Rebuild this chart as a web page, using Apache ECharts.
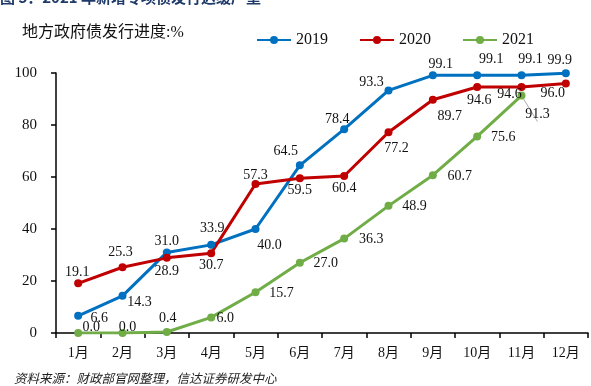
<!DOCTYPE html>
<html><head><meta charset="utf-8">
<script src="https://cdn.jsdelivr.net/npm/echarts@6/dist/echarts.min.js"></script>
<style>html,body{margin:0;padding:0;background:#fff}#c{width:591px;height:386px}</style>
</head><body><div id="c"></div>
<script>
const months = ['1月','2月','3月','4月','5月','6月','7月','8月','9月','10月','11月','12月'];
const seriesNames = ['2019','2020','2021'];
const s2019 = [6.6, 14.3, 31.0, 33.9, 40.0, 64.5, 78.4, 93.3, 99.1, 99.1, 99.1, 99.9];
const s2020 = [19.1, 25.3, 28.9, 30.7, 57.3, 59.5, 60.4, 77.2, 89.7, 94.6, 94.6, 96.0];
const s2021 = [0.0, 0.0, 0.4, 6.0, 15.7, 27.0, 36.3, 48.9, 60.7, 75.6, 91.3];
const yMin = 0, yMax = 100, yStep = 20;

// label placement (offsets from point, px)
const off2019 = [[21,2],[17,7],[0,-11],[1,-17],[14,16],[-14,-14],[-7,-10],[-17,-8],[8,-11],[14,-16],[9,-16],[-6,-13]];
const off2020 = [[-1,-11],[-2,-15],[0,13],[0,12],[0,-9],[0,12],[0,12],[8,16],[17,17],[2,13],[-12,7],[-13,10]];
const off2021 = [[13,-6],[5,-6],[1,-14],[14,1],[26,1],[26,1],[27,1],[26,0],[27,1],[26,1],[16,19]];

const colors = ['#0070C0','#C00000','#70AD47'];
const serif = '"Times New Roman","Liberation Serif","Noto Sans CJK SC",serif';

function mk(vals, offs, name, color){
  return {
    name: name, type: 'line', data: vals.map((v,i)=>({value:v, label:{offset:offs[i]}})),
    symbol: 'circle', symbolSize: 8, color: color,
    lineStyle: {width: 3, color: color},
    itemStyle: {color: color},
    label: {show: true, position: 'inside', fontFamily: serif, fontSize: 14, color: '#111',
      formatter: p => Number(p.value).toFixed(1)},
    z: 2
  };
}

const chart = echarts.init(document.getElementById('c'));
const s3 = mk(s2021, off2021, seriesNames[2], colors[2]);
s3.labelLine = {show: false};
s3.data[10].labelLine = {show: true, lineStyle: {color: '#aaa', width: 1}};

chart.setOption({
  animation: false,
  backgroundColor: '#fff',
  grid: {left: 56, right: 3, top: 73, bottom: 53, containLabel: false},
  legend: {
    data: seriesNames, left: 251, top: 27, itemWidth: 34, itemHeight: 10, itemGap: 31, itemTextGap: 3,
    textStyle: {fontFamily: serif, fontSize: 16, color: '#111'}
  },
  graphic: [
    {type: 'text', left: 0, top: -10, style: {text: '图 3：2021 年新增专项债发行迟缓严重', fontSize: 15, fontWeight: 'bold', fill: '#1F3A68', fontFamily: '"Noto Sans CJK SC",sans-serif'}},
    {type: 'text', left: 22, top: 25, style: {text: '地方政府债发行进度:%', fontSize: 16, fill: '#111', fontFamily: serif}},
    {type: 'text', left: 14, top: 372, style: {text: '资料来源：财政部官网整理，信达证券研发中心', fontSize: 12.5, fontStyle: 'italic', fill: '#222', fontFamily: '"Noto Sans CJK SC",sans-serif'}}
  ],
  xAxis: {
    type: 'category', data: months, boundaryGap: true,
    axisLine: {lineStyle: {color: '#000', width: 1.5}},
    axisTick: {show: true, length: 5, lineStyle: {color: '#000', width: 1.5}},
    axisLabel: {margin: 13, fontFamily: serif, fontSize: 14, color: '#111'}
  },
  yAxis: {
    type: 'value', min: yMin, max: yMax, interval: yStep,
    splitLine: {show: false},
    axisLine: {show: true, lineStyle: {color: '#000', width: 1.5}},
    axisTick: {show: true, length: 5, lineStyle: {color: '#000', width: 1.5}},
    axisLabel: {margin: 19, fontFamily: serif, fontSize: 15, color: '#111'}
  },
  series: [mk(s2019, off2019, seriesNames[0], colors[0]), mk(s2020, off2020, seriesNames[1], colors[1]), s3]
});
</script></body></html>
